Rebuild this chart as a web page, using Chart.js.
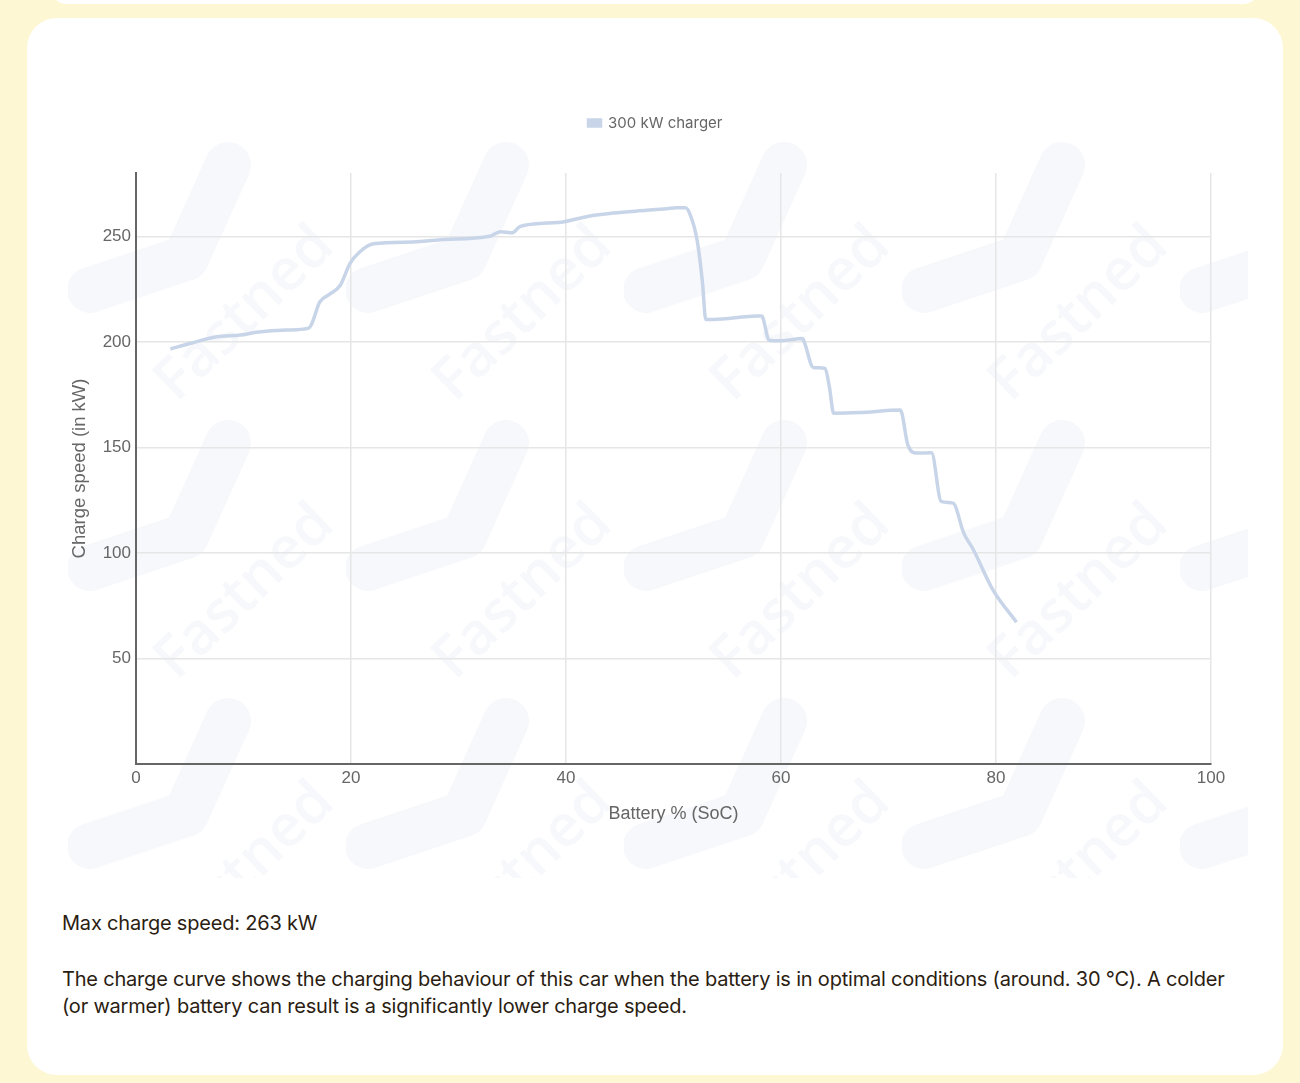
<!DOCTYPE html>
<html>
<head>
<meta charset="utf-8">
<script src="https://cdn.jsdelivr.net/npm/chart.js@4.4.1/dist/chart.umd.min.js"></script>
<style>
  html, body { margin: 0; padding: 0; }
  body {
    width: 1300px; height: 1083px; overflow: hidden;
    background: #fdf7d3; position: relative;
    font-family: "Inter", "Lato", sans-serif;
  }
  .topcard {
    position: absolute; left: 50px; top: -30px; width: 1210px; height: 34px;
    background: #fff; border-radius: 30px;
  }
  .card {
    position: absolute; left: 27px; top: 18px; width: 1256px; height: 1057px;
    background: #fff; border-radius: 30px;
  }
  #marks {
    position: absolute; left: 68px; top: 140px; width: 1180px; height: 738px;
    overflow: hidden;
  }
  .tile { position: absolute; width: 278px; height: 278px; }
  .tile svg { position: absolute; left: 0; top: 0; }
  .tile span {
    position: absolute; left: 173px; top: 170px;
    transform: translate(-50%, -50%) rotate(-44deg);
    font: 600 58px "Open Sans", sans-serif; color: #f7f8fb; white-space: nowrap;
  }
  #chartBox {
    position: absolute; left: 40px; top: 100px; width: 1191px; height: 730px;
  }
  .info {
    position: absolute; left: 62px; top: 911px; color: #2b1d12;
    font-size: 20px; letter-spacing: -0.2px; white-space: nowrap;
  }
  .info p { margin: 0; }
  .info .desc { margin-top: 31px; line-height: 27px; }
</style>
</head>
<body>
<div class="topcard"></div>
<div class="card"></div>
<div id="marks"></div>
<div id="chartBox"><canvas id="chargeChart"></canvas></div>
<div class="info">
  <p>Max charge speed: 263 kW</p>
  <p class="desc">The charge curve shows the charging behaviour of this car when the battery is in optimal conditions (around. 30 °C). A colder<br>(or warmer) battery can result is a significantly lower charge speed.</p>
</div>
<script>
// battery % (SoC) and charge speed (kW)
const socValues = [3.2, 5.0, 7.5, 9.7, 11.2, 14.0, 16.0, 16.3, 17.1, 18.0, 19.0, 19.9, 20.8, 22.1,
  25.8, 28.3, 32.9, 33.9, 35.0, 35.7, 38.2, 39.7, 42.0, 44.4, 47.5, 49.4, 50.3, 51.1, 51.5,
  52.2, 52.7, 53.0, 53.7, 57.8, 58.2, 58.9, 59.9, 62.0, 62.2, 63.0, 64.1, 64.5, 64.9, 67.3,
  71.1, 71.8, 72.6, 74.0, 74.9, 76.0, 77.0, 77.9, 79.7, 81.9];
const kwValues = [196.6, 199.2, 202.4, 203.2, 204.5, 205.6, 206.4, 208.0, 218.9, 222.5, 226.8, 237.1, 242.6, 246.5,
  247.3, 248.4, 250.0, 252.2, 251.7, 254.6, 256.3, 256.8, 259.4, 261.0, 262.3, 263.1, 263.5, 263.5, 260.9,
  248.1, 227.8, 210.6, 210.6, 212.2, 212.2, 200.8, 200.5, 201.6, 199.4, 187.9, 187.4, 178.7, 166.2, 166.5,
  167.7, 151.2, 147.3, 147.5, 124.4, 123.6, 109.4, 101.5, 82.6, 67.2];
const yTicks = [50, 100, 150, 200, 250];
const seriesLabel = '300 kW charger';

// faint watermark tiles in the background
const marks = document.getElementById('marks');
for (let r = 0; r < 3; r++) {
  for (let c = 0; c < 5; c++) {
    const t = document.createElement('div');
    t.className = 'tile';
    t.style.left = (c * 278) + 'px';
    t.style.top = (r * 278) + 'px';
    t.innerHTML = '<svg width="278" height="278"><path d="M 22 150 L 118 118 L 160 25" fill="none" stroke="#f7f8fb" stroke-width="46" stroke-linecap="round" stroke-linejoin="round"/></svg><span>Fastned</span>';
    marks.appendChild(t);
  }
}

const legendGap = {
  id: 'legendGap',
  beforeInit(chart) {
    const fit = chart.legend.fit;
    chart.legend.fit = function () {
      fit.bind(chart.legend)();
      this.height += 32.5;
    };
  }
};

const ctx = document.getElementById('chargeChart').getContext('2d');
new Chart(ctx, {
  type: 'line',
  data: {
    datasets: [{
      label: seriesLabel,
      data: socValues.map((x, i) => ({ x: x, y: kwValues[i] })),
      borderColor: '#c8d5e9',
      backgroundColor: '#c8d5e9',
      borderWidth: 3.5,
      pointRadius: 0,
      cubicInterpolationMode: 'monotone',
      fill: false
    }]
  },
  options: {
    responsive: true,
    maintainAspectRatio: false,
    animation: false,
    layout: { padding: { left: 60, right: 20, top: 5.5, bottom: 5 } },
    plugins: {
      legend: {
        position: 'top',
        labels: {
          boxWidth: 12, boxHeight: 6, padding: 10,
          color: '#666',
          font: { family: 'Inter', size: 15 }
        }
      },
      tooltip: { enabled: false }
    },
    scales: {
      x: {
        type: 'linear',
        min: 0, max: 100,
        ticks: { stepSize: 20, color: '#666', padding: 4, font: { family: 'Liberation Sans', size: 17 } },
        grid: { color: '#e6e6e6', lineWidth: 1.5, drawTicks: false },
        border: { display: true, color: '#666', width: 2 },
        title: { display: true, text: 'Battery % (SoC)', color: '#666', padding: { top: 0, bottom: 0 }, font: { family: 'Liberation Sans', size: 18 } },
        afterFit: (scale) => { scale.height = 61; }
      },
      y: {
        min: 0, max: 280,
        afterBuildTicks: (axis) => { axis.ticks = yTicks.map(v => ({ value: v })); },
        ticks: { color: '#666', padding: 5, font: { family: 'Liberation Sans', size: 17 } },
        grid: { color: '#e6e6e6', lineWidth: 1.5, drawTicks: false },
        border: { display: true, color: '#666', width: 2 },
        title: { display: true, text: 'Charge speed (in kW)', color: '#666', padding: { top: -30.8, bottom: 0 }, font: { family: 'Liberation Sans', size: 18.5 } },
        afterFit: (scale) => { scale.width = 36; }
      }
    }
  },
  plugins: [legendGap]
});
</script>
</body>
</html>
